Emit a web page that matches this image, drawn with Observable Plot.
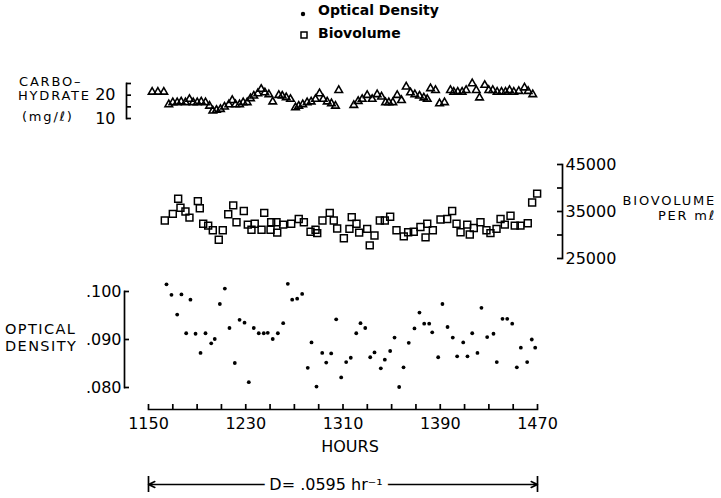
<!DOCTYPE html>
<html><head><meta charset="utf-8">
<script src="https://cdn.jsdelivr.net/npm/d3@7"></script>
<script src="https://cdn.jsdelivr.net/npm/@observablehq/plot@0.6"></script>
<style>
body{margin:0;background:#fff;}
#chart{position:relative;width:721px;height:498px;font-family:"DejaVu Sans",sans-serif;color:#000;overflow:hidden;background:#fff;}
#chart svg{position:absolute;left:0;}
.lbl{position:absolute;font-size:13px;line-height:13px;letter-spacing:1.8px;white-space:nowrap;}
.lbl2{position:absolute;font-size:14.5px;line-height:14px;letter-spacing:1.4px;white-space:nowrap;}
.leg{position:absolute;font-size:14px;line-height:14px;font-weight:bold;white-space:nowrap;}
</style></head><body>
<div id="chart">
  <svg width="721" height="45" style="top:0">
    <circle cx="303" cy="14" r="2.2" fill="#000"/>
    <rect x="301" y="32" width="6" height="6" fill="none" stroke="#000" stroke-width="1.5"/>
  </svg>
  <div class="leg" style="left:318px;top:3px">Optical Density</div>
  <div class="leg" style="left:318px;top:26px">Biovolume</div>
  <div class="lbl" style="left:19px;top:75px">CARBO–</div>
  <div class="lbl" style="left:18px;top:89px">HYDRATE</div>
  <div class="lbl" style="left:22px;top:110px">(mg/ℓ)</div>
  <div class="lbl" style="right:5px;top:194px;text-align:right">BIOVOLUME</div>
  <div class="lbl" style="right:5px;top:209px;text-align:right">PER mℓ</div>
  <div class="lbl2" style="left:5px;top:322px">OPTICAL</div>
  <div class="lbl2" style="left:5px;top:339px">DENSITY</div>
</div>
<script>
// ---- data ----
const carbHours = [1153.0,1157.7,1162.6,1166.7,1170.0,1173.6,1176.9,1180.4,1183.7,1186.8,
1190.1,1193.4,1196.9,1200.2,1202.9,1205.9,1209.2,1212.5,1216.1,1218.9,
1221.6,1224.9,1227.9,1231.2,1233.9,1236.6,1239.9,1242.7,1245.7,1249.0,
1252.2,1257.2,1260.0,1263.3,1266.8,1270.9,1273.6,1276.9,1280.5,1283.8,
1287.4,1290.7,1293.7,1297.0,1300.5,1303.8,1306.5,1318.9,1322.5,1325.8,
1329.9,1334.0,1338.1,1341.7,1345.0,1347.7,1351.0,1354.6,1358.1,1362.0,
1365.5,1369.1,1372.9,1376.5,1379.3,1382.0,1386.1,1389.4,1393.5,1398.4,
1401.1,1404.4,1408.0,1411.3,1416.3,1419.6,1422.3,1426.6,1429.9,1433.2,
1436.8,1440.4,1443.7,1447.0,1450.5,1454.6,1459.3,1462.3,1466.1];
const carbValues = [21.4,21.4,21.4,16.0,16.9,16.9,17.2,16.9,18.3,16.9,
16.9,17.2,16.9,15.4,13.3,13.6,14.0,15.0,16.0,17.8,
16.0,16.0,16.9,16.9,18.6,19.7,20.7,22.6,21.1,20.3,
17.2,20.0,19.7,19.0,18.3,14.7,15.4,16.0,16.9,17.2,
18.3,20.7,18.3,17.2,16.4,15.4,22.1,15.7,17.4,18.3,
20.0,18.3,20.3,19.3,16.9,16.9,16.9,20.0,17.8,23.6,
21.1,20.3,19.7,18.9,18.3,22.9,22.1,16.4,16.9,22.1,
21.4,21.4,21.4,22.1,25.0,22.1,18.9,24.3,22.1,22.1,
21.4,21.4,21.4,22.1,21.4,21.7,23.2,21.7,20.3];

const bioHours = [1163.4,1170.0,1174.4,1176.3,1180.4,1183.7,1190.6,1192.2,1195.0,1199.1,
1202.9,1207.8,1211.1,1215.6,1219.7,1222.4,1228.4,1231.7,1234.7,1237.4,
1243.0,1245.2,1250.4,1250.9,1255.3,1255.9,1260.8,1267.4,1273.6,1277.8,
1283.3,1287.4,1288.8,1293.1,1299.1,1302.4,1305.2,1310.7,1315.3,1317.2,
1321.1,1323.3,1329.9,1332.0,1335.9,1340.3,1344.4,1348.8,1354.0,1360.0,
1363.6,1368.2,1373.7,1377.9,1379.3,1383.9,1390.2,1395.7,1399.8,1403.4,
1406.7,1412.2,1414.3,1417.6,1423.1,1428.0,1431.3,1436.3,1439.6,1443.1,
1447.8,1451.3,1456.0,1462.0,1465.6,1469.7];
const bioValues = [33100,34500,37700,35800,35000,33700,37200,35700,32400,32000,
31000,29000,31000,34400,36300,32700,35100,32200,31100,32400,
31100,34700,31100,32700,32700,30500,32200,32400,33400,32700,
30700,31100,30400,33100,34700,33100,31400,29300,31300,33800,
32400,30500,31300,27800,29900,33100,33100,33900,31000,29700,
30600,30700,31700,29500,32400,31000,33300,33400,35100,32400,
30600,32200,30100,31500,32700,31000,30400,31300,33400,32200,
34100,32000,32000,32500,36900,38800];

const odHours = [1164.8,1168.9,1177.1,1173.6,1184.5,1181.0,1188.7,1196.9,1192.8,1201.6,
1204.5,1208.7,1212.8,1216.6,1221.0,1224.9,1229.0,1232.5,1236.6,1240.7,
1244.8,1248.1,1252.2,1256.4,1260.8,1264.6,1268.2,1272.3,1276.4,1281.0,
1284.1,1288.2,1292.9,1296.2,1300.3,1304.4,1308.5,1312.6,1316.4,1320.9,
1324.4,1328.3,1332.4,1335.9,1341.1,1344.4,1348.8,1352.4,1356.2,1359.8,
1364.1,1368.8,1372.9,1376.8,1380.9,1383.4,1388.3,1391.8,1396.0,1400.3,
1403.9,1408.9,1412.4,1416.3,1420.6,1423.9,1428.6,1433.8,1436.5,1441.2,
1445.1,1449.2,1453.0,1456.3,1461.5,1465.3,1468.1];
const odValues = [.1015,.0993,.0994,.0952,.0983,.0913,.0912,.0913,.0872,.0892,
.0901,.0974,.1006,.0924,.0851,.0941,.0935,.0811,.0924,.0913,
.0913,.0914,.0901,.0913,.0934,.1016,.0983,.0985,.0995,.0841,
.0894,.0802,.0872,.0852,.0871,.0942,.0821,.0853,.0862,.0913,
.0934,.0924,.0863,.0873,.0840,.0858,.0876,.0904,.0801,.0842,
.0893,.0923,.0956,.0933,.0933,.0915,.0863,.0974,.0926,.0904,
.0865,.0894,.0865,.0913,.0872,.0966,.0905,.0912,.0853,.0943,
.0943,.0933,.0842,.0883,.0853,.0900,.0883];

const hourDomain = [1150, 1470];
const hourMinorTicks = [1150,1170,1190,1210,1230,1250,1270,1290,1310,1330,1350,1370,1390,1410,1430,1450,1470];
const hourLabelTicks = [1150,1230,1310,1390,1470];
const carbDomain = [10, 25];
const carbTicks = [10,15,20,25];
const carbLabelTicks = [10,20];
const bioDomain = [25000, 45000];
const bioTicks = [25000,30000,35000,40000,45000];
const bioLabelTicks = [25000,35000,45000];
const odDomain = [0.08, 0.10];
const odTicks = [0.08,0.09,0.10];
const dilutionSpan = [1150, 1470];
const dilutionLabel = "D= .0595 hr⁻¹";
const dilutionLabelHour = 1296;

// ---- build: one band per panel ----
const W = 721;
const chart = document.getElementById("chart");
const style = {background: "transparent", fontFamily: "DejaVu Sans, sans-serif", fontSize: "16px", color: "black", overflow: "visible"};
const xRange = [148, 537];
const SW = 1.7;
const INK = "black";
const FS = 16;

const carb = carbHours.map((h, i) => ({hour: h, value: carbValues[i]}));
const bio = bioHours.map((h, i) => ({hour: h, value: bioValues[i]}));
const od = odHours.map((h, i) => ({hour: h, value: odValues[i]}));

function band({top, bottom, frameTop, frameBottom, left, right, y, marks}) {
  const svg = Plot.plot({
    width: W, height: bottom - top,
    marginTop: frameTop - top, marginBottom: bottom - frameBottom,
    marginLeft: left, marginRight: W - right,
    style,
    x: {domain: hourDomain, range: xRange, axis: null},
    y: y ? {...y, axis: null} : undefined,
    marks
  });
  svg.style.top = top + "px";
  chart.appendChild(svg);
}

// y tick labels as text marks pinned to the bracket edge
function yLabels(ticks, fmt, side, pad) {
  return Plot.text(ticks, {
    y: d => d, text: fmt, frameAnchor: side, fontSize: FS, fill: INK,
    textAnchor: side === "left" ? "end" : "start",
    dx: side === "left" ? -pad : pad
  });
}

// Carbohydrate (bracket axis on the left)
{
  const left = 126, right = 537;
  band({top: 70, bottom: 126, frameTop: 83, frameBottom: 118, left, right, y: {domain: carbDomain}, marks: [
    Plot.frame({anchor: "left", stroke: INK, strokeWidth: SW}),
    Plot.tickY(carbTicks, {y: d => d, insetRight: (right - left) - 5, stroke: INK, strokeWidth: SW}),
    yLabels(carbLabelTicks, d3.format("d"), "left", 11),
    Plot.dot(carb, {x: "hour", y: "value", symbol: "triangle", r: 2.8, stroke: INK, strokeWidth: 1.6, fill: "none"})
  ]});
}

// Biovolume (bracket axis on the right)
{
  const left = 148, right = 562;
  band({top: 148, bottom: 272, frameTop: 164, frameBottom: 258, left, right, y: {domain: bioDomain}, marks: [
    Plot.frame({anchor: "right", stroke: INK, strokeWidth: SW}),
    Plot.tickY(bioTicks, {y: d => d, insetLeft: (right - left) - 5, stroke: INK, strokeWidth: SW}),
    yLabels(bioLabelTicks, d3.format("d"), "right", 3),
    Plot.dot(bio, {x: "hour", y: "value", symbol: "square", r: 3.9, stroke: INK, strokeWidth: 1.5, fill: "none"})
  ]});
}

// Optical density (bracket axis on the left)
{
  const left = 124, right = 537;
  band({top: 274, bottom: 397, frameTop: 291, frameBottom: 387, left, right, y: {domain: odDomain}, marks: [
    Plot.frame({anchor: "left", stroke: INK, strokeWidth: SW}),
    Plot.tickY(odTicks, {y: d => d, insetRight: (right - left) - 5, stroke: INK, strokeWidth: SW}),
    yLabels(odTicks, d => d3.format(".3f")(d).slice(1), "left", 3),
    Plot.dot(od, {x: "hour", y: "value", r: 1.9, fill: INK})
  ]});
}

// Hours axis (line at the band frame bottom, ticks rising above it)
band({top: 398, bottom: 460, frameTop: 404, frameBottom: 409, left: xRange[0], right: xRange[1], marks: [
  Plot.frame({anchor: "bottom", stroke: INK, strokeWidth: SW}),
  Plot.tickX(hourMinorTicks, {x: d => d, stroke: INK, strokeWidth: SW}),
  Plot.text(hourLabelTicks, {x: d => d, text: d3.format("d"), frameAnchor: "bottom", lineAnchor: "middle", dy: 14, fontSize: FS, fill: INK}),
  Plot.text(["HOURS"], {frameAnchor: "bottom", lineAnchor: "middle", dx: 7, dy: 37, fontSize: FS, fill: INK})
]});

// Dilution-rate annotation
{
  const mid = (dilutionSpan[0] + dilutionSpan[1]) / 2;
  band({top: 468, bottom: 498, frameTop: 476, frameBottom: 492, left: xRange[0], right: xRange[1], y: {domain: [0, 1]}, marks: [
    Plot.tickX(dilutionSpan, {x: d => d, stroke: INK, strokeWidth: SW}),
    Plot.arrow(dilutionSpan, {x1: () => mid, x2: d => d, y1: () => 0.5, y2: () => 0.5, headLength: 7, headAngle: 50, stroke: INK, strokeWidth: 1.5}),
    Plot.text([dilutionLabel], {x: () => dilutionLabelHour, y: () => 0.5, fill: INK, stroke: "white", strokeWidth: 12, fontSize: FS})
  ]});
}
</script>
</body></html>
